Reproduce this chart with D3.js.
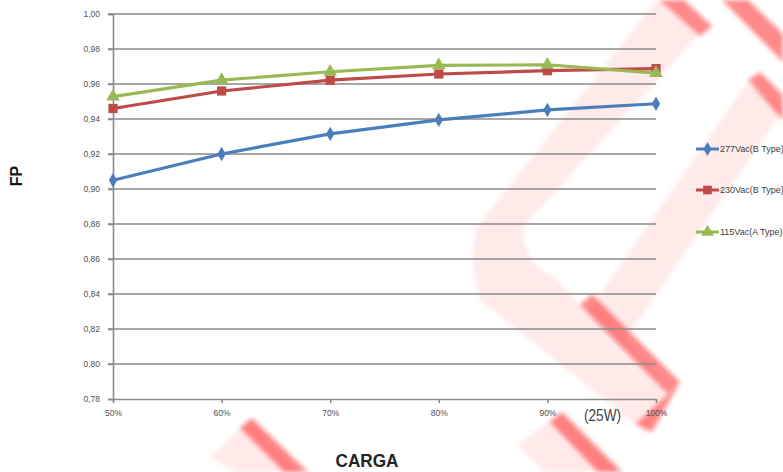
<!DOCTYPE html>
<html>
<head>
<meta charset="utf-8">
<script src="https://cdn.jsdelivr.net/npm/d3@7"></script>
<style>
  html, body { margin: 0; padding: 0; background: #fff; }
  svg { display: block; }
  text { font-family: "Liberation Sans", Arial, sans-serif; }
</style>
</head>
<body>
<svg id="chart" width="783" height="472"></svg>
<script>
// ---- data ----
const categories = ["50%", "60%", "70%", "80%", "90%", "100%"];
const yTicks = [0.78, 0.80, 0.82, 0.84, 0.86, 0.88, 0.90, 0.92, 0.94, 0.96, 0.98, 1.00];
const seriesNames = ["277Vac(B Type)", "230Vac(B Type)", "115Vac(A Type)"];
const values277 = [0.905, 0.920, 0.9315, 0.9395, 0.9452, 0.9487];
const values230 = [0.946, 0.956, 0.9622, 0.9657, 0.9676, 0.9688];
const values115 = [0.9528, 0.9622, 0.967, 0.9706, 0.971, 0.9662];
const seriesColors = ["#4A7EBB", "#BE4B48", "#98B954"];
const seriesSymbols = [d3.symbolDiamond, d3.symbolSquare, d3.symbolTriangle];

(function draw() {
const svg = d3.select("#chart");
const pLeft = 113, pRight = 656, pTop = 14, pBottom = 399;

// ---- watermark (decorative background logo) ----
const defs = svg.append("defs");
defs.append("filter").attr("id", "soft").append("feGaussianBlur").attr("stdDeviation", 2);
defs.append("filter").attr("id", "soft2").append("feGaussianBlur").attr("stdDeviation", 4);
const wm = svg.append("g").attr("class", "watermark");
const pink = [
  "M657,0 L665,0 L700,33 L522,228 Q526,268 553,276 L587,313 L747,83 L784,109 L626,338 L668,392 L645,432 L480,300 Q468,262 477,227 Z",
  "M210,457 L250,420 L300,472 L236,472 Z",
  "M517,445 L560,413 L619,472 L545,472 Z"
];
pink.forEach(d => wm.append("path").attr("d", d)
  .attr("fill", "#ff0000").attr("fill-opacity", 0.085).attr("filter", "url(#soft)"));
const faces = [
  "M660,0 L684,0 L712,26 L700,36 Z",
  "M722,0 L748,0 L783,34 L783,62 Z",
  "M748,80 L760,72 L783,95 L783,120 Z",
  "M580,305 L592,294 L680,382 L668,394 Z",
  "M668,394 L680,382 L652,432 L636,424 Z",
  "M240,428 L252,418 L308,472 L284,472 Z",
  "M550,422 L562,412 L622,472 L598,472 Z"
];
faces.forEach(d => wm.append("path").attr("d", d)
  .attr("fill", "#ff1a1a").attr("fill-opacity", 0.5).attr("filter", "url(#soft)"));

// ---- scales ----
const x = d3.scalePoint().domain(categories).range([pLeft, pRight]);
const y = d3.scaleLinear().domain([0.78, 1.00]).range([pBottom, pTop]);

// ---- grid ----
const gridColor = "#8a8a8a";
svg.append("g").selectAll("line").data(yTicks.filter(v => v > 0.781)).join("line")
  .attr("x1", pLeft - 5).attr("x2", pRight)
  .attr("y1", d => y(d)).attr("y2", d => y(d))
  .attr("stroke", gridColor).attr("stroke-width", 1.6);

// y axis
const yAxis = d3.axisLeft(y).tickValues(yTicks).tickSize(5).tickPadding(8)
  .tickFormat(d => d3.format(".2f")(d).replace(".", ","));
const gy = svg.append("g").attr("transform", `translate(${pLeft},0)`).call(yAxis);
gy.select(".domain").attr("stroke", gridColor).attr("stroke-width", 1.6);
gy.selectAll(".tick line").attr("stroke", gridColor).attr("stroke-width", 1.6);
gy.selectAll(".tick text").attr("fill", "#505050").style("font-size", "8.5px")
  .style("font-family", "'Liberation Sans', Arial, sans-serif");

// x axis
const xAxis = d3.axisBottom(x).tickSize(4).tickPadding(7).tickSizeOuter(0);
const gx = svg.append("g").attr("transform", `translate(0,${pBottom})`).call(xAxis);
gx.select(".domain").attr("stroke", gridColor).attr("stroke-width", 1.6);
gx.selectAll(".tick line").attr("stroke", gridColor).attr("stroke-width", 1.6);
gx.selectAll(".tick text").attr("fill", "#505050").style("font-size", "8.5px")
  .style("font-family", "'Liberation Sans', Arial, sans-serif");

// ---- series ----
const allSeries = [values277, values230, values115];
const line = d3.line().x((d, i) => x(categories[i])).y(d => y(d));
allSeries.forEach((vals, si) => {
  const g = svg.append("g");
  g.append("path").datum(vals).attr("d", line)
    .attr("fill", "none").attr("stroke", seriesColors[si]).attr("stroke-width", 3.2)
    .attr("stroke-linejoin", "round");
  const size = si === 0 ? 60 : (si === 1 ? 85 : 80);
  g.selectAll("path.m").data(vals).join("path").attr("class", "m")
    .attr("transform", (d, i) => `translate(${x(categories[i])},${y(d)})`)
    .attr("d", d3.symbol().type(seriesSymbols[si]).size(size))
    .attr("fill", seriesColors[si]);
});

// ---- legend ----
const legendY = [149, 190, 232];
seriesNames.forEach((name, si) => {
  const g = svg.append("g").attr("transform", `translate(696,${legendY[si]})`);
  g.append("line").attr("x1", 0).attr("x2", 23).attr("y1", 0).attr("y2", 0)
    .attr("stroke", seriesColors[si]).attr("stroke-width", 3);
  const size = si === 0 ? 55 : (si === 1 ? 75 : 70);
  g.append("path").attr("transform", "translate(11.5,0)")
    .attr("d", d3.symbol().type(seriesSymbols[si]).size(size)).attr("fill", seriesColors[si]);
  g.append("text").attr("x", 24).attr("y", 3).text(name)
    .attr("fill", "#404040").style("font-size", "9px");
});

// ---- axis titles ----
svg.append("text").attr("transform", "translate(22,176) rotate(-90)")
  .attr("text-anchor", "middle").attr("fill", "#1a1a1a")
  .style("font-size", "16px").style("font-weight", "bold").text("FP");

svg.append("text").attr("x", 367).attr("y", 467)
  .attr("text-anchor", "middle").attr("fill", "#222")
  .style("font-size", "18px").style("font-weight", "bold")
  .attr("textLength", 63).attr("lengthAdjust", "spacingAndGlyphs").text("CARGA");

svg.append("text").attr("x", 584).attr("y", 421)
  .attr("fill", "#444").style("font-size", "16px")
  .attr("textLength", 37).attr("lengthAdjust", "spacingAndGlyphs").text("(25W)");
})();
</script>
</body>
</html>
